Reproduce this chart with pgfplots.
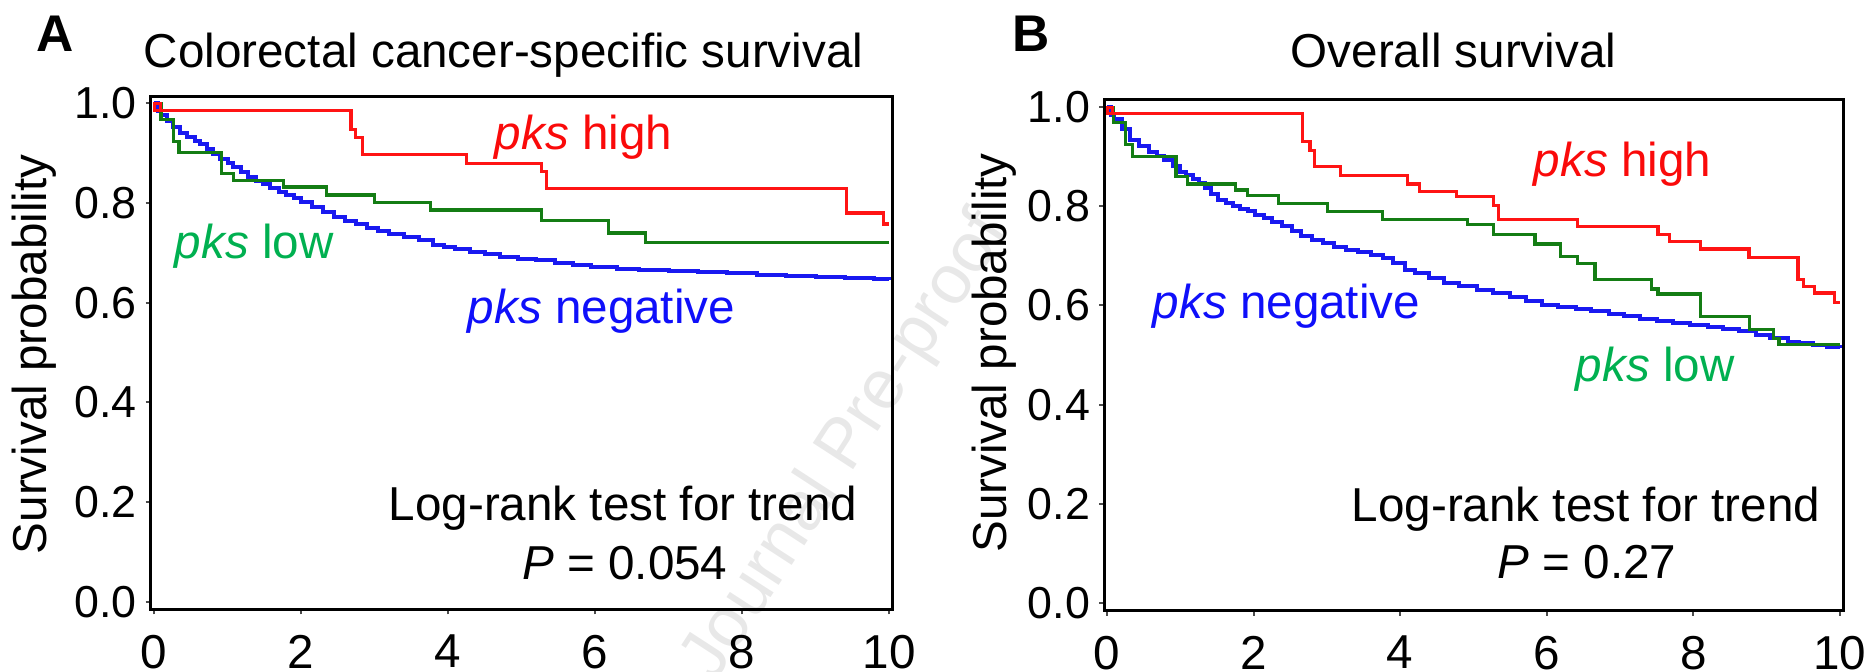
\documentclass[border=0pt]{standalone}
\usepackage{fontspec}
\setmainfont{Liberation Sans}
\usepackage{pgfplots}
\pgfplotsset{compat=1.18}

\definecolor{kmred}{RGB}{255,20,20}
\definecolor{kmgreen}{RGB}{20,125,20}
\definecolor{kmblue}{RGB}{25,25,240}
\definecolor{txtred}{RGB}{250,10,10}
\definecolor{txtgreen}{RGB}{0,176,80}
\definecolor{txtblue}{RGB}{15,15,250}

\newcommand{\lbl}{\fontsize{11.9}{14}\selectfont}
\newcommand{\tlbl}{\fontsize{11.2}{13}\selectfont}

\pgfplotsset{kmaxis/.style={
  scale only axis,
  xmin=-0.045, xmax=10.05, ymin=-0.015, ymax=1.014,
  xtick={0,2,4,6,8,10}, xticklabels={0,2,4,6,8,10},
  ytick={0,0.2,0.4,0.6,0.8,1}, yticklabels={0.0,0.2,0.4,0.6,0.8,1.0},
  tick pos=left, tick align=outside,
  major tick length=1.3pt,
  tick style={gray!60!black, line width=0.5pt},
  axis line style={line width=0.75pt},
  xticklabel style={font=\lbl, anchor=north, inner sep=0pt, yshift=-4.9pt},
  yticklabel style={font=\tlbl, anchor=east, inner sep=0pt, xshift=-2.1pt},
  const plot, no marks,
}}

\begin{document}
\begin{tikzpicture}
\path[use as bounding box] (0,0) rectangle (467.5pt,168pt);

% watermark
\node[rotate=57, text=gray!18, font=\fontsize{17.5}{19}\selectfont] at (211.75pt,56.25pt) {Journal Pre-proof};

% ---- A: colorectal cancer-specific survival
\begin{axis}[kmaxis, at={(37.7pt,15.7pt)}, anchor=south west,
  width=185.5pt, height=128.2pt]
% pks negative
\addplot[kmblue, line width=1pt] coordinates {
(0,1.0)(0.05,0.985)(0.1,0.976)(0.18,0.965)(0.26,0.953)(0.35,0.940)(0.45,0.932)
(0.55,0.925)(0.63,0.918)(0.72,0.908)(0.8,0.899)(0.9,0.889)(1.0,0.880)(1.08,0.872)
(1.18,0.862)(1.28,0.853)(1.38,0.845)(1.48,0.838)(1.58,0.831)(1.7,0.823)(1.8,0.816)
(1.9,0.810)(2.0,0.802)(2.15,0.792)(2.3,0.782)(2.45,0.772)(2.6,0.763)(2.75,0.757)
(2.9,0.750)(3.05,0.744)(3.2,0.738)(3.4,0.731)(3.6,0.725)(3.8,0.716)(3.95,0.711)
(4.1,0.707)(4.3,0.701)(4.5,0.697)(4.7,0.692)(4.95,0.688)(5.2,0.685)(5.45,0.680)
(5.7,0.675)(5.95,0.671)(6.3,0.668)(6.6,0.666)(7.0,0.664)(7.4,0.661)(7.8,0.659)
(8.2,0.656)(8.6,0.654)(9.0,0.652)(9.4,0.650)(9.8,0.648)(10.0,0.647)
};
% pks low
\addplot[kmgreen, line width=0.8pt] coordinates {
(0,1)(0.095,0.968)(0.26,0.923)(0.34,0.901)(0.92,0.860)(1.08,0.845)(1.76,0.832)
(2.34,0.816)(3.0,0.801)(3.76,0.786)(5.27,0.765)(6.18,0.740)(6.68,0.721)(10,0.721)
};
% pks high
\addplot[kmred, line width=0.8pt] coordinates {
(0.09,0.985)(0,0.985)(0,1)(0.09,1)(0.09,0.985)(2.68,0.948)(2.74,0.932)(2.83,0.897)
(4.25,0.880)(5.27,0.863)(5.34,0.829)(9.42,0.780)(9.92,0.758)(10,0.758)
};
\end{axis}

% ---- B: overall survival
\begin{axis}[kmaxis, at={(276.1pt,15.4pt)}, anchor=south west,
  width=184.75pt, height=127.8pt, xmin=-0.037, ymax=1.016]
% pks negative
\addplot[kmblue, line width=1pt] coordinates {
(0,1.0)(0.05,0.985)(0.1,0.976)(0.2,0.955)(0.31,0.934)(0.44,0.922)(0.57,0.910)
(0.68,0.902)(0.78,0.894)(0.9,0.881)(1.0,0.870)(1.08,0.863)(1.17,0.855)(1.25,0.847)
(1.34,0.836)(1.42,0.825)(1.51,0.813)(1.62,0.806)(1.72,0.800)(1.82,0.795)(1.92,0.790)
(2.02,0.783)(2.14,0.776)(2.25,0.769)(2.38,0.760)(2.52,0.750)(2.65,0.741)(2.79,0.732)
(2.95,0.725)(3.1,0.718)(3.26,0.712)(3.42,0.707)(3.6,0.701)(3.76,0.696)(3.9,0.685)
(4.06,0.672)(4.2,0.665)(4.4,0.655)(4.6,0.645)(4.8,0.639)(5.05,0.632)(5.27,0.625)
(5.5,0.617)(5.72,0.609)(5.94,0.601)(6.15,0.597)(6.4,0.592)(6.61,0.588)(6.85,0.582)
(7.05,0.578)(7.28,0.573)(7.5,0.569)(7.72,0.565)(7.95,0.561)(8.2,0.556)(8.4,0.552)
(8.62,0.548)(8.85,0.541)(9.05,0.535)(9.29,0.527)(9.45,0.524)(9.63,0.521)(9.82,0.517)
(10,0.514)
};
% pks low
\addplot[kmgreen, line width=0.8pt] coordinates {
(0,1)(0.09,0.969)(0.25,0.924)(0.35,0.900)(0.94,0.860)(1.10,0.845)(1.75,0.833)
(1.92,0.821)(2.34,0.806)(3.01,0.790)(3.76,0.774)(4.92,0.763)(5.27,0.743)(5.84,0.724)
(6.19,0.699)(6.42,0.685)(6.66,0.653)(7.43,0.633)(7.52,0.623)(8.10,0.577)(8.77,0.551)
(9.09,0.534)(9.17,0.522)(10,0.522)
};
% pks high
\addplot[kmred, line width=0.8pt] coordinates {
(0.07,0.987)(0,0.987)(0,1)(0.07,1)(0.07,0.987)(2.67,0.931)(2.77,0.913)(2.83,0.880)
(3.19,0.862)(4.10,0.845)(4.26,0.830)(4.77,0.820)(5.27,0.801)(5.34,0.773)(6.42,0.759)
(7.52,0.743)(7.68,0.729)(8.10,0.714)(8.76,0.697)(9.43,0.653)(9.51,0.638)(9.66,0.625)
(9.93,0.606)(10,0.606)
};
\end{axis}

% panel letters and titles
\node[anchor=base west, inner sep=0pt, font=\fontsize{12.9}{15}\selectfont\bfseries] at (9pt,155pt) {A};
\node[anchor=base west, inner sep=0pt, font=\fontsize{12.9}{15}\selectfont\bfseries] at (252.9pt,155.1pt) {B};
\node[anchor=base west, inner sep=0pt, font=\lbl] at (35.75pt,151pt) {Colorectal cancer-specific survival};
\node[anchor=base west, inner sep=0pt, font=\lbl] at (322.5pt,151pt) {Overall survival};

% y labels
\node[rotate=90, anchor=base, inner sep=0pt, font=\lbl] at (11.75pt,79.4pt) {Survival probability};
\node[rotate=90, anchor=base, inner sep=0pt, font=\lbl] at (251.6pt,79.75pt) {Survival probability};

% group labels A
\node[anchor=base west, inner sep=0pt, font=\lbl, text=txtred] at (123.5pt,130.5pt) {\textit{pks} high};
\node[anchor=base west, inner sep=0pt, font=\lbl, text=txtgreen] at (43.5pt,103.4pt) {\textit{pks} low};
\node[anchor=base west, inner sep=0pt, font=\lbl, text=txtblue] at (116.75pt,87pt) {\textit{pks} negative};
\node[anchor=base west, inner sep=0pt, font=\lbl] at (97pt,37.75pt) {Log-rank test for trend};
\node[anchor=base west, inner sep=0pt, font=\lbl] at (130.4pt,23pt) {\textit{P} = 0.054};

% group labels B
\node[anchor=base west, inner sep=0pt, font=\lbl, text=txtred] at (383.25pt,123.75pt) {\textit{pks} high};
\node[anchor=base west, inner sep=0pt, font=\lbl, text=txtblue] at (288pt,88.4pt) {\textit{pks} negative};
\node[anchor=base west, inner sep=0pt, font=\lbl, text=txtgreen] at (393.75pt,72.6pt) {\textit{pks} low};
\node[anchor=base west, inner sep=0pt, font=\lbl] at (337.75pt,37.5pt) {Log-rank test for trend};
\node[anchor=base west, inner sep=0pt, font=\lbl] at (374.25pt,23.25pt) {\textit{P} = 0.27};
\end{tikzpicture}
\end{document}
